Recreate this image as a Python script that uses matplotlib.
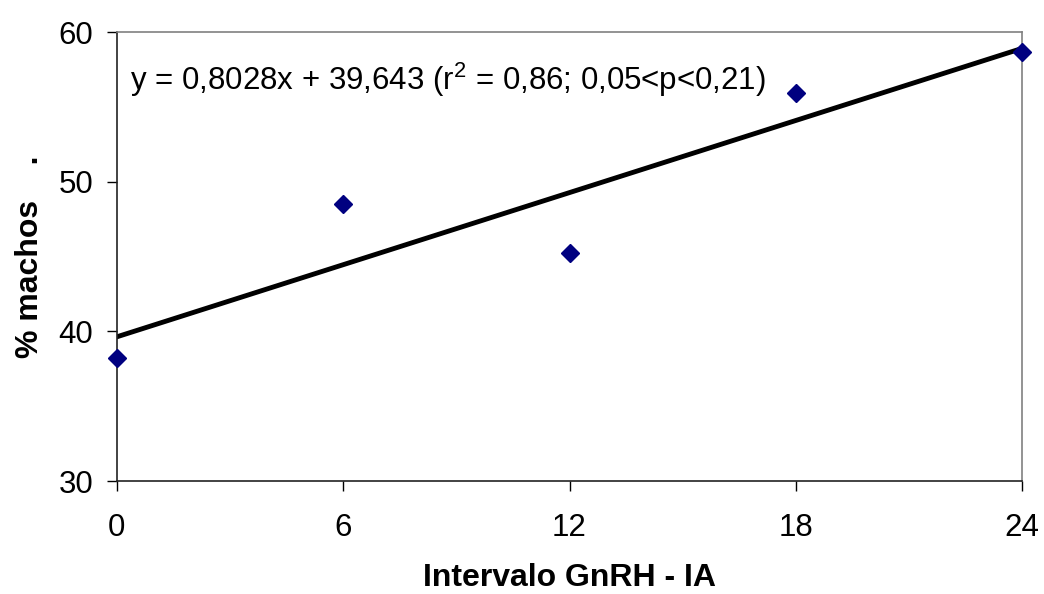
import matplotlib
matplotlib.use("Agg")
import matplotlib.pyplot as plt
import numpy as np

plt.rcParams['font.family'] = ['Liberation Sans', 'DejaVu Sans']
plt.rcParams['mathtext.fontset'] = 'custom'
plt.rcParams['mathtext.rm'] = 'Liberation Sans'

# datos
intervalo = [0, 6, 12, 18, 24]
machos = [38.25, 48.5, 45.25, 55.9, 58.65]
pendiente = 0.8028
intercepto = 39.643
xticks = [0, 6, 12, 18, 24]
yticks = [30, 40, 50, 60]

fig = plt.figure(figsize=(10.44, 5.94), dpi=100)
ax = fig.add_axes([0.112, 0.19, 0.867, 0.756])

xl = np.array([0, 24])
ax.plot(xl, intercepto + pendiente * xl, color='black', linewidth=3.5, zorder=2)
ax.plot(intervalo, machos, linestyle='none', marker='D', markersize=9,
        color='#000080', zorder=3, clip_on=False)

ax.set_xlim(0, 24)
ax.set_ylim(30, 60)
ax.set_xticks(xticks)
ax.set_yticks(yticks)
ax.tick_params(axis='both', direction='out', length=7, width=1, labelsize=22.5, colors='black')
ax.tick_params(axis='x', pad=16)
ax.tick_params(axis='y', pad=10)

for s in ['top', 'right']:
    ax.spines[s].set_color('#808080')
    ax.spines[s].set_linewidth(1.2)
for s in ['left', 'bottom']:
    ax.spines[s].set_color('#222222')
    ax.spines[s].set_linewidth(1.2)

ax.text(0.34, 56.8, 'y = 0,8028x + 39,643 (r$^2$ = 0,86; 0,05<p<0,21)',
        fontsize=22.5, va='center', ha='left')

ax.set_xlabel('Intervalo GnRH - IA', fontsize=23, fontweight='bold', labelpad=14)
ax.set_ylabel('% machos    .', fontsize=23, fontweight='bold', labelpad=10)

fig.savefig('out.png', dpi=100)
